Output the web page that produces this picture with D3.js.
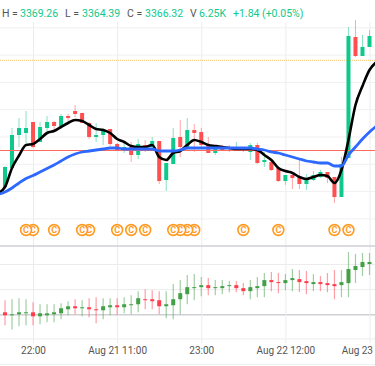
<!DOCTYPE html>
<html>
<head>
<meta charset="utf-8">
<script src="https://cdn.jsdelivr.net/npm/d3@7"></script>
<style>
  html, body { margin: 0; padding: 0; background: #fff; overflow: hidden; }
  svg { display: block; font-family: Roboto, sans-serif; }
  .axis path { display: none; }
</style>
</head>
<body>
<script>
'use strict';

// price candles, one entry per bar
var open = [3337.6,3341.4,3348,3348.4,3350.6,3346.6,3349.4,3350.6,3349.8,3351.8,3352.8,3352.4,3350.4,3347.6,3348,3349.2,3346.2,3345,3345.6,3344,3346,3345.6,3346.8,3339,3342.2,3347.6,3345.6,3349,3348.6,3346,3344.4,3345.6,3345.6,3345.2,3345.4,3344.6,3346,3342.6,3342.6,3341.4,3338.8,3340,3339.6,3338.2,3339,3339.6,3340.6,3339.6,3335.6,3343.4,3367.6,3363.8,3365.6];
var close = [3341.6,3348,3349.4,3349.4,3345.6,3349.6,3350.6,3349.8,3351.8,3351.4,3352.2,3350.4,3347.6,3348,3349.2,3346.2,3345,3345.6,3344,3346.2,3345,3346.8,3338.8,3342.4,3347.4,3345.6,3349,3348.4,3346,3344.4,3345.8,3345,3345.2,3345.4,3345,3346,3342.4,3343,3341,3338.8,3340,3339.4,3338.2,3339.4,3340,3340.6,3339.4,3335.6,3342.2,3367.8,3363.8,3365.6,3367.8];
var high = [3341.8,3349.4,3351.4,3352.8,3350.6,3350.6,3351.8,3350.8,3352.2,3352.2,3354,3352.4,3350.6,3350.4,3349.4,3349.2,3346.4,3346.6,3346.6,3347.2,3347,3347.6,3346.8,3342.4,3349.4,3351,3351.4,3350.2,3349.4,3347.6,3346,3346,3346,3346.6,3345.6,3346.4,3346.4,3344.6,3343.2,3341.4,3340,3340,3343,3340.2,3340.8,3341,3340.6,3339.6,3343.6,3369.6,3371,3368,3369];
var low = [3337.4,3341.4,3345.6,3346.4,3345.4,3346.6,3348.4,3348.6,3349.8,3350.8,3351.6,3350.4,3347.2,3346.6,3346,3345.8,3344.8,3344.4,3342.6,3343.2,3344.6,3345,3338.2,3336.8,3342.2,3343.6,3344.8,3344.6,3345.4,3344.4,3344,3344.8,3344.6,3345,3344.6,3343,3342.2,3341.6,3340.8,3338.6,3338,3337.2,3337.2,3337,3338.8,3339.4,3338.4,3334.4,3335.6,3343.4,3363.6,3363.8,3365.6];

// moving averages start one bar before the first candle and end one bar after the last
var fastAvg = [3336.4,3337.6,3341.4,3343.9,3346,3346.2,3347.2,3348.4,3348.8,3349.6,3350.4,3351,3350.8,3350,3349.2,3349,3348.4,3347.2,3346.6,3345.8,3345.6,3345.6,3346,3343.6,3343,3344.4,3344.8,3346,3347,3346.6,3346,3345.8,3345.6,3345.4,3345.2,3345.2,3345.2,3345,3344,3343,3341.4,3340.8,3340.4,3339.6,3339.2,3339.6,3340,3339.8,3338.4,3341,3347,3354,3357.8,3361,3362.6];
var slowAvg = [3336.1,3336.6,3337.4,3338.4,3339.3,3339.9,3340.6,3341.3,3342,3342.8,3343.6,3344.2,3344.6,3344.8,3345,3345.2,3345.4,3345.4,3345.2,3345.2,3345.2,3345.2,3345.2,3344.8,3344.8,3344.8,3345,3345.4,3345.4,3345.4,3345.4,3345.4,3345.4,3345.4,3345.4,3345.4,3345.4,3345.2,3345,3344.6,3344.4,3344,3343.6,3343.2,3342.8,3342.6,3342.4,3342.4,3341.8,3341.8,3344,3345.6,3347.2,3348.6,3349.8];

// lower panel candles
var subTop = [2,0,2,2,2,1,1,2,6,8,8,7,7,5,8,9,9,10,10,16,15,15,14,10,15,21,27,27,29,29,27,28,29,29,26,27,28,34,34,32,34,36,35,33,32,32,31,30,32,45,48,52,52];
var subBottom = [-1,-1,0,1,-2,-2,-1,0,1,5,6,6,5,4,4,7,7,7,9,10,14,13,8,8,9,15,20,26,27,26,26,26,28,26,23,23,26,28,32,31,31,34,32,31,30,30,29,28,29,31,44,47,50];
var subHigh = [14,15,16,15,12,10,10,10,11,13,15,14,16,17,16,16,16,17,19,23,25,24,23,23,30,34,39,40,37,36,34,34,33,33,31,34,37,41,42,41,40,45,44,43,40,38,41,44,44,62,60,61,61];
var subLow = [-11,-15,-12,-11,-11,-10,-8,-8,-5,-1,0,-2,-3,-9,-5,-1,-1,1,0,2,5,5,0,-4,-5,0,10,14,18,19,19,20,22,22,19,15,17,17,23,21,24,23,22,20,23,23,22,15,17,17,31,38,39];
var subUp = [0,1,1,1,0,1,1,1,1,1,0,1,0,0,1,1,0,1,1,1,0,0,0,1,1,1,1,1,1,0,1,1,1,0,0,1,1,1,0,0,1,1,0,0,1,0,0,0,1,1,1,1,1];

var tickBars = [4, 16, 28, 40, 52];
var tickLabels = ['22:00', 'Aug 21 11:00', '23:00', 'Aug 22 12:00', 'Aug 23'];
var priceGrid = [3369.54, 3364.08, 3358.62, 3353.16, 3347.7, 3342.24, 3336.78, 3331.32];
var subGrid = [50, 25, 0, -24];
var eventBars = [3, 4, 7, 11, 12, 16, 18, 20, 24, 25, 26, 27, 34, 39, 47, 49];
var lastPrice = 3344.9;
var targetPrice = 3362.94;

var headerNames = ['H =', 'L =', 'C =', 'V'];
var headerValues = ['3369.26', '3364.39', '3366.32', '6.25K'];
var headerChange = '+1.84 (+0.05%)';

var width = 375, height = 366;
var green = '#0fc98c', red = '#ff5050', subGreen = '#43a047', subRed = '#ff3d4d';

var svg = d3.select('body').append('svg')
    .attr('width', width)
    .attr('height', height);

var x = d3.scaleLinear().domain([0, 52]).range([5, 369.5]);
// no price axis is shown, the scale is only anchored to the gridlines
var y = d3.scaleLinear().domain([3375, 3301.8]).range([0, 366]);
var ySub = d3.scaleLinear().domain([0, 50]).range([314.3, 264]);

// gridlines
svg.append('g')
    .attr('class', 'axis')
    .call(d3.axisLeft(y).tickValues(priceGrid).tickSize(-width).tickFormat(''))
    .selectAll('line').attr('stroke', '#f0f0f0');

svg.append('g')
    .attr('class', 'axis')
    .call(d3.axisLeft(ySub).tickValues(subGrid).tickSize(-width).tickFormat(''))
    .selectAll('line').attr('stroke', function(d) { return d === 0 ? '#cfcfd4' : '#ececec'; })
    .attr('stroke-width', function(d) { return d === 0 ? 1.5 : 1; });

svg.append('g')
    .attr('class', 'axis')
    .attr('transform', 'translate(0,22)')
    .call(d3.axisBottom(x).tickValues(tickBars).tickSize(321).tickFormat(''))
    .selectAll('line').attr('stroke', '#ececec');

svg.append('line').attr('x1', 0).attr('x2', width).attr('y1', 246).attr('y2', 246)
    .attr('stroke', '#cfcfd8').attr('stroke-width', 1.5);
svg.append('line').attr('x1', 0).attr('x2', width).attr('y1', 364.5).attr('y2', 364.5)
    .attr('stroke', '#f0f0f0');

// x axis labels, the last one sits against the right edge
var xAxis = svg.append('g')
    .attr('class', 'axis')
    .attr('transform', 'translate(0,338)')
    .call(d3.axisBottom(x).tickValues(tickBars).tickSize(0).tickPadding(9)
      .tickFormat(function(d, i) { return tickLabels[i]; }));
xAxis.selectAll('text')
    .attr('fill', '#555')
    .attr('text-anchor', function(d) { return d === 52 ? 'end' : 'middle'; })
    .attr('dx', function(d) { return d === 52 ? 3 : 0; })
    .style('font-family', 'Roboto, sans-serif')
    .style('font-size', '10px');

// reference lines
svg.append('line').attr('x1', 0).attr('x2', width)
    .attr('y1', y(targetPrice)).attr('y2', y(targetPrice))
    .attr('stroke', '#ffc56e').attr('stroke-dasharray', '1,1');

// main candles
var bars = d3.range(open.length);
var candles = svg.append('g').selectAll('g').data(bars).join('g')
    .attr('fill', function(i) { return close[i] >= open[i] ? green : red; })
    .attr('stroke', function(i) { return close[i] >= open[i] ? green : red; });
candles.append('line')
    .attr('x1', function(i) { return x(i); })
    .attr('x2', function(i) { return x(i); })
    .attr('y1', function(i) { return y(high[i]); })
    .attr('y2', function(i) { return y(low[i]); })
    .attr('stroke-opacity', 0.5);
candles.append('rect')
    .attr('stroke', 'none')
    .attr('x', function(i) { return x(i) - 2; })
    .attr('width', 4)
    .attr('y', function(i) { return y(Math.max(open[i], close[i])); })
    .attr('height', function(i) { return Math.max(1, Math.abs(y(open[i]) - y(close[i]))); });

svg.append('line').attr('x1', 0).attr('x2', width)
    .attr('y1', y(lastPrice)).attr('y2', y(lastPrice))
    .attr('stroke', '#ff6a5c');

// moving averages
var avgLine = d3.line()
    .x(function(d, i) { return x(i - 1); })
    .y(function(d) { return y(d); })
    .curve(d3.curveMonotoneX);

svg.append('path').attr('d', avgLine(fastAvg))
    .attr('fill', 'none').attr('stroke', '#000').attr('stroke-width', 2.6);
svg.append('path').attr('d', avgLine(slowAvg))
    .attr('fill', 'none').attr('stroke', '#2d68ff').attr('stroke-width', 2.8);

// lower panel
var subCandles = svg.append('g').selectAll('g').data(bars).join('g')
    .attr('fill', function(i) { return subUp[i] ? subGreen : subRed; })
    .attr('stroke', function(i) { return subUp[i] ? subGreen : subRed; });
subCandles.append('line')
    .attr('x1', function(i) { return x(i); })
    .attr('x2', function(i) { return x(i); })
    .attr('y1', function(i) { return ySub(subHigh[i]); })
    .attr('y2', function(i) { return ySub(subLow[i]); })
    .attr('stroke-width', 1.2)
    .attr('stroke-opacity', 0.5);
subCandles.append('rect')
    .attr('stroke', 'none')
    .attr('x', function(i) { return x(i) - 2; })
    .attr('width', 4)
    .attr('y', function(i) { return ySub(subTop[i]); })
    .attr('height', function(i) { return Math.max(1, ySub(subBottom[i]) - ySub(subTop[i])); });

// event markers
var markers = svg.append('g').selectAll('g').data(eventBars.slice().reverse()).join('g')
    .attr('transform', function(d) { return 'translate(' + x(d) + ',230)'; });
markers.append('circle')
    .attr('r', 5.4)
    .attr('fill', '#fff')
    .attr('stroke', '#ff9a1f')
    .attr('stroke-width', 1.6);
markers.append('text')
    .attr('text-anchor', 'middle')
    .attr('dy', '0.36em')
    .attr('fill', '#ff9a1f')
    .attr('font-size', 9)
    .attr('font-weight', 700)
    .text('C');

// header
var nameX = [2, 65, 127, 190], valueX = [20, 82, 145, 199];
var header = svg.append('g').attr('font-size', 10.5);
headerNames.forEach(function(name, i) {
  header.append('text').attr('x', nameX[i]).attr('y', 17).attr('fill', '#555').text(name);
  header.append('text').attr('x', valueX[i]).attr('y', 17).attr('fill', green).text(headerValues[i]);
});
header.append('text').attr('x', 233).attr('y', 17).attr('fill', green).text(headerChange);
</script>
</body>
</html>
